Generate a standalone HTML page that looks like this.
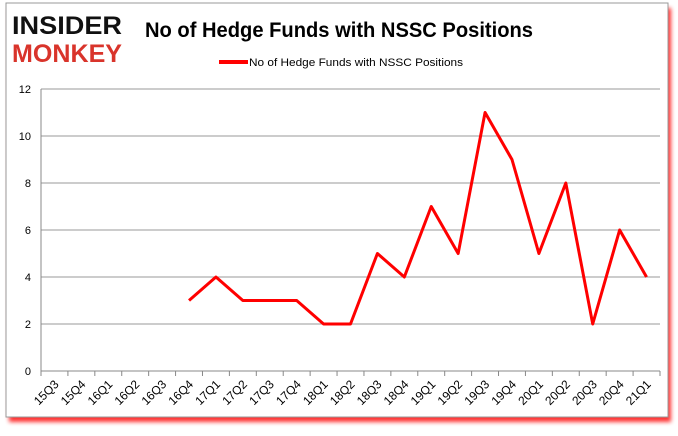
<!DOCTYPE html>
<html><head><meta charset="utf-8"><style>
body{margin:0;background:#fff;width:678px;height:431px;overflow:hidden;font-family:"Liberation Sans",sans-serif}
</style></head><body>
<svg width="678" height="431">
<defs><filter id="sh" x="-5%" y="-5%" width="115%" height="115%"><feGaussianBlur stdDeviation="2"/></filter></defs>
<rect x="9" y="8" width="662" height="414" fill="#f00" opacity="0.8" filter="url(#sh)"/>
<rect x="6" y="3" width="662" height="414" fill="#fff" stroke="#999"/>
<g font-family="'Liberation Sans',sans-serif" font-weight="900">
<text x="12" y="34" font-size="25" fill="#111" textLength="110" lengthAdjust="spacingAndGlyphs">INSIDER</text>
<text x="12" y="62" font-size="25" fill="#d9342b" textLength="110" lengthAdjust="spacingAndGlyphs">MONKEY</text>
</g>
<text x="145" y="37" font-size="21" font-weight="bold" fill="#000" textLength="388" lengthAdjust="spacingAndGlyphs">No of Hedge Funds with NSSC Positions</text>
<line x1="219" y1="62" x2="248" y2="62" stroke="#f00" stroke-width="4"/>
<text x="249" y="66" font-size="11" fill="#000" textLength="214" lengthAdjust="spacingAndGlyphs">No of Hedge Funds with NSSC Positions</text>
<g id="grid"></g><g id="plot"></g>
</svg>
<script>
const categories=["15Q3","15Q4","16Q1","16Q2","16Q3","16Q4","17Q1","17Q2","17Q3","17Q4","18Q1","18Q2","18Q3","18Q4","19Q1","19Q2","19Q3","19Q4","20Q1","20Q2","20Q3","20Q4","21Q1"];
const values=[null,null,null,null,null,3,4,3,3,3,2,2,5,4,7,5,11,9,5,8,2,6,4];
const yTicks=[0,2,4,6,8,10,12];
const NS="http://www.w3.org/2000/svg";
const X0=41,X1=660,Y0=371,Y1=89,YMAX=12;
const bw=(X1-X0)/categories.length;
const xs=i=>X0+bw*(i+0.5);
const ys=v=>Y0-(v/YMAX)*(Y0-Y1);
const svg=document.querySelector('svg');
function mk(t,a,p){const e=document.createElementNS(NS,t);for(const k in a)e.setAttribute(k,a[k]);(p||svg).appendChild(e);return e;}
yTicks.forEach(t=>{
 if(t>0){const g=mk('line',{x1:X0,x2:X1,y1:ys(t),y2:ys(t),stroke:'#999','stroke-width':1});
 
 }
 const l=mk('text',{x:X0-10,y:ys(t)+4,'font-size':11,'text-anchor':'end',fill:'#000'});l.textContent=t;
 
 
});
const ax=mk('line',{x1:X0,x2:X1,y1:Y0,y2:Y0,stroke:'#888'});


const ay=mk('line',{x1:X0,x2:X0,y1:Y1,y2:Y0,stroke:'#888'});


for(let i=0;i<=categories.length;i++){const t=mk('line',{x1:X0+bw*i,x2:X0+bw*i,y1:Y0,y2:Y0+5,stroke:'#888'});

}
categories.forEach((c,i)=>{const x=xs(i)+5,y=Y0+14;
 const l=mk('text',{x:x,y:y,'font-size':12,'text-anchor':'end',fill:'#000',transform:`rotate(-45 ${x} ${y})`});l.textContent=c;
 
 });
let d='';values.forEach((v,i)=>{if(v==null)return;d+=(d?'L':'M')+xs(i)+','+ys(v);});
const p=mk('path',{d:d,fill:'none',stroke:'#f00','stroke-width':3,'stroke-linejoin':'round'});


</script>
</body></html>
